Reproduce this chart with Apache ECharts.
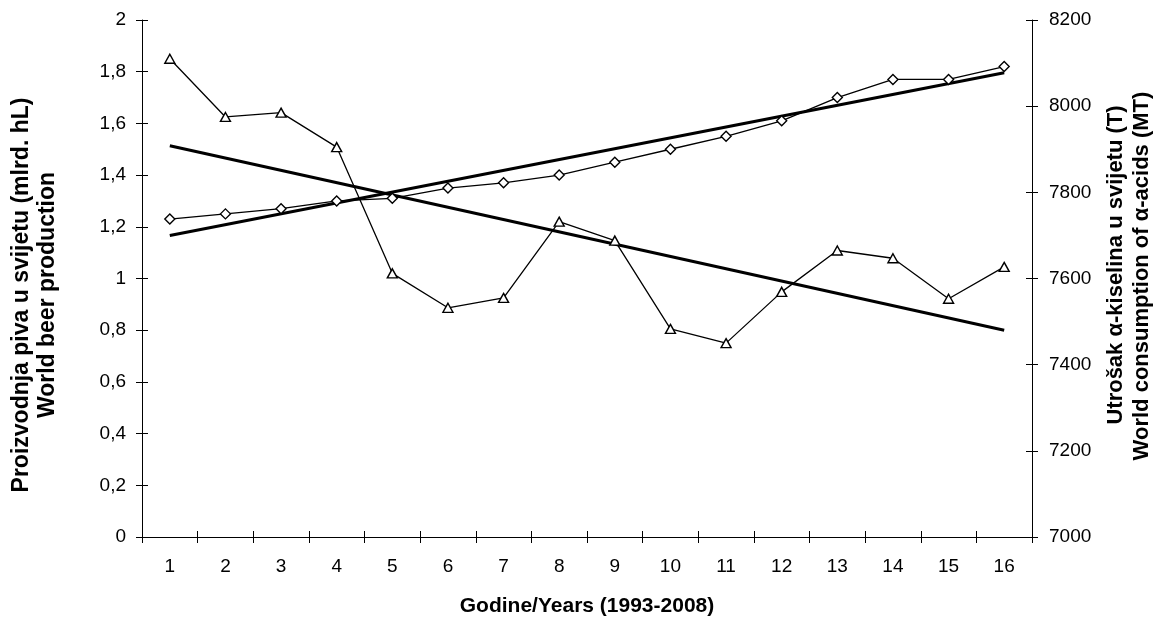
<!DOCTYPE html>
<html>
<head>
<meta charset="utf-8">
<script src="https://cdn.jsdelivr.net/npm/echarts@6/dist/echarts.min.js"></script>
<style>
html,body{margin:0;padding:0;background:#fff;}
#chart{width:1153px;height:617px;}
</style>
</head>
<body>
<div id="chart"></div>
<script>
// ---- data ----
var categories = ['1','2','3','4','5','6','7','8','9','10','11','12','13','14','15','16'];
// World beer production (billion hL) - left axis, diamonds
var beerProduction = [1.23, 1.25, 1.27, 1.30, 1.31, 1.35, 1.37, 1.40, 1.45, 1.50, 1.55, 1.61, 1.70, 1.77, 1.77, 1.82];
// World consumption of alpha-acids (MT) - right axis, triangles
var alphaAcids = [8110, 7975, 7985, 7905, 7612, 7532, 7555, 7732, 7688, 7483, 7450, 7569, 7665, 7647, 7553, 7627];
// Linear trend lines (values at first and last year)
var beerTrendEnds = [1.166, 1.796];
var alphaTrendEnds = [7908, 7480];
var leftTicks = {min: 0, max: 2, interval: 0.2};
var rightTicks = {min: 7000, max: 8200, interval: 200};

var FONT = '"Liberation Sans", Arial, sans-serif';
var chart = echarts.init(document.getElementById('chart'), null, {renderer: 'canvas'});

function fmtComma(v){ return String(+(+v).toFixed(1)).replace('.', ','); }
function fmtPlain(v){ return String(Math.round(v)); }

var axisLineStyle = {show: true, lineStyle: {color: '#000', width: 1}};
var tickStyle = {lineStyle: {color: '#000', width: 1}, length: 6};

function trendData(ends){
  return [[categories[0], ends[0]], [categories[categories.length-1], ends[1]]];
}

var option = {
  animation: false,
  backgroundColor: '#fff',
  grid: {left: 142, right: 121, top: 20, bottom: 80, containLabel: false},
  xAxis: [
    {
      type: 'category', data: categories, boundaryGap: true, position: 'bottom',
      axisLine: axisLineStyle,
      axisTick: Object.assign({show: true, inside: false, alignWithLabel: false, interval: 0}, tickStyle),
      axisLabel: {color: '#000', fontSize: 19, fontFamily: FONT, margin: 20, interval: 0},
      splitLine: {show: false}
    },
    {
      type: 'category', data: categories, boundaryGap: true, position: 'bottom',
      axisLine: {show: false},
      axisTick: Object.assign({show: true, inside: true, alignWithLabel: false, interval: 0}, tickStyle),
      axisLabel: {show: false},
      splitLine: {show: false}
    }
  ],
  yAxis: [
    {
      type: 'value', position: 'left', min: leftTicks.min, max: leftTicks.max, interval: leftTicks.interval,
      axisLine: axisLineStyle,
      axisTick: Object.assign({show: true, inside: false}, tickStyle),
      axisLabel: {color: '#000', fontSize: 19, fontFamily: FONT, margin: 16, formatter: fmtComma},
      splitLine: {show: false}
    },
    {
      type: 'value', position: 'right', min: rightTicks.min, max: rightTicks.max, interval: rightTicks.interval,
      axisLine: axisLineStyle,
      axisTick: Object.assign({show: true, inside: false}, tickStyle),
      axisLabel: {color: '#000', fontSize: 19, fontFamily: FONT, margin: 17, formatter: fmtPlain},
      splitLine: {show: false}
    },
    {
      type: 'value', position: 'left', min: leftTicks.min, max: leftTicks.max, interval: leftTicks.interval,
      axisLine: {show: false},
      axisTick: Object.assign({show: true, inside: true}, tickStyle),
      axisLabel: {show: false}, splitLine: {show: false}
    },
    {
      type: 'value', position: 'right', min: rightTicks.min, max: rightTicks.max, interval: rightTicks.interval,
      axisLine: {show: false},
      axisTick: Object.assign({show: true, inside: true}, tickStyle),
      axisLabel: {show: false}, splitLine: {show: false}
    }
  ],
  series: [
    {
      name: 'World beer production', type: 'line', xAxisIndex: 0, yAxisIndex: 0,
      data: beerProduction,
      symbol: 'diamond', symbolSize: [10, 10],
      lineStyle: {color: '#000', width: 1.3},
      itemStyle: {color: '#fff', borderColor: '#000', borderWidth: 1.4},
      z: 3
    },
    {
      name: 'World consumption of α-acids', type: 'line', xAxisIndex: 0, yAxisIndex: 1,
      data: alphaAcids,
      symbol: 'triangle', symbolSize: [10, 9],
      lineStyle: {color: '#000', width: 1.3},
      itemStyle: {color: '#fff', borderColor: '#000', borderWidth: 1.4},
      z: 3
    },
    {
      name: 'Beer trend', type: 'line', xAxisIndex: 0, yAxisIndex: 0,
      data: trendData(beerTrendEnds), showSymbol: false, symbol: 'none',
      lineStyle: {color: '#000', width: 3}, z: 2
    },
    {
      name: 'Alpha trend', type: 'line', xAxisIndex: 0, yAxisIndex: 1,
      data: trendData(alphaTrendEnds), showSymbol: false, symbol: 'none',
      lineStyle: {color: '#000', width: 3}, z: 2
    }
  ],
  graphic: [
    {type: 'text', x: 22, y: 295, rotation: Math.PI/2,
     style: {text: 'Proizvodnja piva u svijetu (mlrd. hL)', font: 'bold 23px ' + FONT, fill: '#000', textAlign: 'center', textVerticalAlign: 'middle'}},
    {type: 'text', x: 48, y: 295, rotation: Math.PI/2,
     style: {text: 'World beer production', font: 'bold 23px ' + FONT, fill: '#000', textAlign: 'center', textVerticalAlign: 'middle'}},
    {type: 'text', x: 1116, y: 265, rotation: Math.PI/2,
     style: {text: 'Utrošak α-kiselina u svijetu (T)', font: 'bold 22px ' + FONT, fill: '#000', textAlign: 'center', textVerticalAlign: 'middle'}},
    {type: 'text', x: 1142, y: 276, rotation: Math.PI/2,
     style: {text: 'World consumption of α-acids (MT)', font: 'bold 22px ' + FONT, fill: '#000', textAlign: 'center', textVerticalAlign: 'middle'}},
    {type: 'text', x: 587, y: 606,
     style: {text: 'Godine/Years (1993-2008)', font: 'bold 21px ' + FONT, fill: '#000', textAlign: 'center', textVerticalAlign: 'middle'}}
  ]
};
chart.setOption(option);
</script>
</body>
</html>
